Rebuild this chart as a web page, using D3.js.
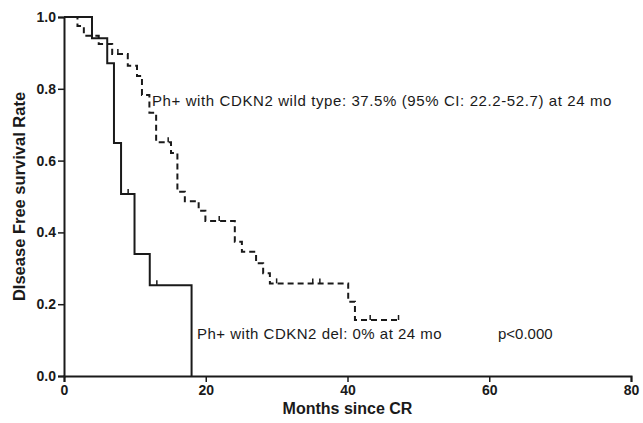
<!DOCTYPE html>
<html>
<head>
<meta charset="utf-8">
<title>Disease free survival</title>
<script src="https://d3js.org/d3.v7.min.js"></script>
<style>
  body { margin: 0; background: #fff; }
  text { font-family: Arial, "Liberation Sans", sans-serif; fill: #1a1a1a; }
</style>
</head>
<body>
<script>
// CDKN2 deleted (solid line)
var delTimes = [0, 3.95, 6.1, 7.05, 8.05, 9.95, 12.1, 18.0];
var delSurv  = [1.0, 0.941, 0.871, 0.649, 0.507, 0.340, 0.253, 0.0];
var delCensor = [9.05, 13.1];

// CDKN2 wild type (dashed line)
var wtTimes = [0, 1.9, 2.8, 4.9, 6.8, 9.0, 10.3, 11.0, 12.05, 13.0, 15.1, 16.0, 17.05, 19.0, 19.95, 24.1, 25.1, 27.1, 28.1, 29.05, 40.1, 41.05];
var wtSurv  = [1.0, 0.975, 0.948, 0.925, 0.897, 0.864, 0.836, 0.783, 0.733, 0.651, 0.621, 0.513, 0.487, 0.46, 0.432, 0.374, 0.346, 0.314, 0.286, 0.258, 0.207, 0.156];
var wtCensor = [7.6, 14.7, 21.9, 30.0, 35.1, 36.1, 43.2, 47.2];
var wtEnd = 47.2;

var xTicks = [0, 20, 40, 60, 80];
var yTicks = [0, 0.2, 0.4, 0.6, 0.8, 1.0];

var w = 643, h = 423;
var margin = {top: 17, right: 12, bottom: 47, left: 64};

var svg = d3.select("body").append("svg")
  .attr("width", w)
  .attr("height", h);

var x = d3.scaleLinear().domain([0, 80]).range([margin.left, w - margin.right]);
var y = d3.scaleLinear().domain([0, 1]).range([h - margin.bottom, margin.top]);

// axes
var xAxis = svg.append("g")
  .attr("transform", "translate(0," + y(0) + ")")
  .call(d3.axisBottom(x).tickValues(xTicks).tickSize(6).tickPadding(3).tickFormat(d3.format("d")));
var yAxis = svg.append("g")
  .attr("transform", "translate(" + x(0) + ",0)")
  .call(d3.axisLeft(y).tickValues(yTicks).tickSize(6).tickPadding(2).tickFormat(d3.format(".1f")));

[xAxis, yAxis].forEach(function(g) {
  g.select(".domain").attr("stroke", "#1a1a1a").attr("stroke-width", 2);
  g.selectAll(".tick line").attr("stroke", "#1a1a1a").attr("stroke-width", 1.5);
  g.selectAll(".tick text")
    .attr("font-family", "Arial, 'Liberation Sans', sans-serif")
    .attr("font-size", "14px")
    .attr("font-weight", "bold")
    .attr("fill", "#1a1a1a");
});

var line = d3.line()
  .x(function(d) { return x(d[0]); })
  .y(function(d) { return y(d[1]); })
  .curve(d3.curveStepAfter);

function stepAt(times, surv, t) {
  var i = d3.bisectRight(times, t) - 1;
  return surv[Math.max(0, i)];
}

// solid curve
var delPts = delTimes.map(function(t, i) { return [t, delSurv[i]]; });
svg.append("path")
  .attr("d", line(delPts))
  .attr("fill", "none")
  .attr("stroke", "#1a1a1a")
  .attr("stroke-width", 2);

// dashed curve
var wtPts = wtTimes.map(function(t, i) { return [t, wtSurv[i]]; });
wtPts.push([wtEnd, wtSurv[wtSurv.length - 1]]);
svg.append("path")
  .attr("d", line(wtPts))
  .attr("fill", "none")
  .attr("stroke", "#1a1a1a")
  .attr("stroke-width", 2)
  .attr("stroke-dasharray", "6,4");

// censor marks
svg.selectAll("line.cdel")
  .data(delCensor)
  .enter()
  .append("line")
  .attr("class", "cdel")
  .attr("x1", function(d) { return x(d); })
  .attr("x2", function(d) { return x(d); })
  .attr("y1", function(d) { return y(stepAt(delTimes, delSurv, d)); })
  .attr("y2", function(d) { return y(stepAt(delTimes, delSurv, d)) - 5; })
  .attr("stroke", "#1a1a1a")
  .attr("stroke-width", 1.5);

svg.selectAll("line.cwt")
  .data(wtCensor)
  .enter()
  .append("line")
  .attr("class", "cwt")
  .attr("x1", function(d) { return x(d); })
  .attr("x2", function(d) { return x(d); })
  .attr("y1", function(d) { return y(stepAt(wtTimes, wtSurv, d)); })
  .attr("y2", function(d) { return y(stepAt(wtTimes, wtSurv, d)) - 5; })
  .attr("stroke", "#1a1a1a")
  .attr("stroke-width", 1.5);

// annotations
svg.append("text")
  .attr("x", 152)
  .attr("y", 106)
  .attr("font-size", "15px")
  .attr("letter-spacing", "0.6px")
  .text("Ph+ with CDKN2 wild type: 37.5% (95% CI: 22.2-52.7) at 24 mo");

svg.append("text")
  .attr("x", 197)
  .attr("y", 339)
  .attr("font-size", "15px")
  .attr("letter-spacing", "0.5px")
  .text("Ph+ with CDKN2 del: 0% at 24 mo");

svg.append("text")
  .attr("x", 498)
  .attr("y", 339)
  .attr("font-size", "15px")
  .text("p<0.000");

// axis titles
svg.append("text")
  .attr("x", (x(0) + x(80)) / 2)
  .attr("y", 414)
  .attr("text-anchor", "middle")
  .attr("font-size", "16px")
  .attr("font-weight", "bold")
  .text("Months since CR");

svg.append("text")
  .attr("transform", "translate(25," + ((y(0) + y(1)) / 2) + ") rotate(-90)")
  .attr("text-anchor", "middle")
  .attr("font-size", "16.5px")
  .attr("font-weight", "bold")
  .text("DIsease Free survival Rate");
</script>
</body>
</html>
